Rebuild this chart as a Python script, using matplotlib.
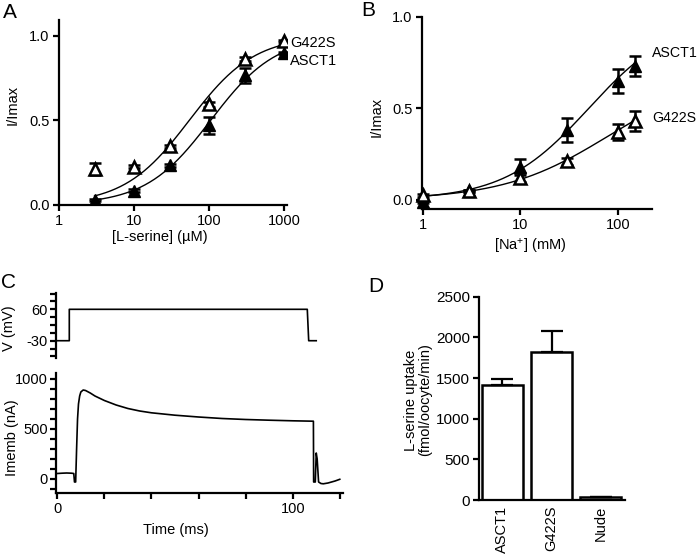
import numpy as np
import matplotlib
matplotlib.use('Agg')
import matplotlib.pyplot as plt
from matplotlib.ticker import FixedLocator, NullLocator

plt.rcParams['font.family'] = ['Liberation Sans', 'DejaVu Sans']
plt.rcParams['mathtext.fontset'] = 'custom'
plt.rcParams['mathtext.rm'] = 'Liberation Sans'
plt.rcParams['mathtext.it'] = 'Liberation Sans:italic'
plt.rcParams['axes.unicode_minus'] = False

# ---------------- data ----------------
# Panel A: L-serine dose response
serine_conc = [3, 10, 30, 100, 300, 1000]
a_asct1 = [0.028, 0.083, 0.232, 0.47, 0.765, 0.897]
a_asct1_err = [0.005, 0.008, 0.01, 0.05, 0.045, 0.005]
a_g422s = [0.21, 0.225, 0.345, 0.593, 0.865, 0.97]
a_g422s_err = [0.035, 0.008, 0.008, 0.012, 0.012, 0.006]
# Hill fit parameters (Vmax, K, n)
a_fit_asct1 = (1.0, 106.0, 1.0)
a_fit_g422s = (1.0, 55.0, 1.0)

# Panel B: Na+ dependence
na_conc = [1, 3, 10, 30, 100, 150]
b_asct1 = [-0.01, 0.05, 0.18, 0.38, 0.65, 0.73]
b_asct1_err = [0.006, 0.006, 0.045, 0.065, 0.065, 0.055]
b_g422s = [0.024, 0.05, 0.12, 0.21, 0.37, 0.43]
b_g422s_err = [0.006, 0.006, 0.025, 0.02, 0.045, 0.055]
b_fit_asct1 = (1.0, 50.0, 1.0)
b_fit_g422s = (0.7, 80.0, 0.8)

# Panel C: voltage protocol and current trace
v_time = [0, 5.1, 5.1, 106.2, 106.8, 110]
v_mv = [-30, -30, 60, 60, -30, -30]
i_time = [0, 2, 4, 6, 7.0, 7.3, 7.8, 8.2, 8.6, 9.0, 9.5, 10, 11, 12, 14, 16,
          20, 25, 30, 35, 40, 45, 50, 60, 70, 80, 90, 100, 108.8, 108.9,
          109.6, 110.0, 110.4, 111, 112, 113, 115, 118, 120]
i_na = [55, 58, 60, 58, 55, -30, -30, 300, 600, 750, 830, 870, 890, 885, 860,
        830, 785, 740, 705, 680, 662, 650, 638, 620, 605, 595, 588, 582, 578,
        -30, -30, 260, 200, -30, -45, -48, -40, -20, -3]

# Panel D: uptake
d_groups = ['ASCT1', 'G422S', 'Nude']
d_uptake = [1420, 1820, 33]
d_err = [70, 255, 8]


def hill(x, p):
    vmax, k, n = p
    x = np.asarray(x, dtype=float)
    return vmax * x ** n / (k ** n + x ** n)


W, H = 700, 555
fig = plt.figure(figsize=(W / 100, H / 100), dpi=100)


def rect(l, t, r, b):
    return [l / W, 1 - b / H, (r - l) / W, (b - t) / H]


def to_axes(ax, px, py):
    return ax.transAxes.inverted().transform((px, H - py))


SPW = 1.6
TFS = 10.5
LFS = 10.5


def style(ax):
    for s in ['top', 'right']:
        ax.spines[s].set_visible(False)
    for s in ['left', 'bottom']:
        ax.spines[s].set_linewidth(SPW)
    ax.tick_params(width=SPW, length=4.5, labelsize=TFS, pad=2)
    ax.tick_params(which='minor', width=SPW, length=4.5)


eb_kw = dict(elinewidth=1.8, capsize=4.5, capthick=1.8, ls='none', ecolor='black')

# ---------------- Panel A ----------------
axA = fig.add_axes(rect(58.7, 20, 287.3, 204.7))
style(axA)
axA.set_xscale('log')
axA.set_xlim(1, 1107)
axA.set_ylim(0, 1.093)
xs = np.logspace(np.log10(3), np.log10(1000), 200)
axA.plot(xs, hill(xs, a_fit_asct1), color='black', lw=1.0)
axA.plot(xs, hill(xs, a_fit_g422s), color='black', lw=1.0)
axA.errorbar(serine_conc, a_asct1, yerr=a_asct1_err, marker='^', ms=8.5,
             mfc='black', mec='black', **eb_kw, zorder=3)
axA.errorbar(serine_conc, a_g422s, yerr=a_g422s_err, marker='^', ms=9,
             mfc='white', mec='black', mew=1.8, **eb_kw, zorder=4)
axA.xaxis.set_major_locator(FixedLocator([1, 10, 100, 1000]))
axA.xaxis.set_minor_locator(NullLocator())
axA.set_xticklabels(['1', '10', '100', '1000'])
axA.set_yticks([0, 0.5, 1.0])
axA.set_yticklabels(['0.0', '0.5', '1.0'])
axA.set_ylabel('I/Imax', fontsize=LFS, va='center')
axA.yaxis.set_label_coords(*to_axes(axA, 13, 105))
axA.set_xlabel('[L-serine] (\u00b5M)', fontsize=LFS, va='center')
axA.xaxis.set_label_coords(*to_axes(axA, 160, 237))
axA.text(*to_axes(axA, 290, 42.7), 'G422S', transform=axA.transAxes,
         fontsize=10.5, va='center', ha='left', clip_on=False)
axA.text(*to_axes(axA, 290, 60.7), 'ASCT1', transform=axA.transAxes,
         fontsize=10.5, va='center', ha='left', clip_on=False)

# ---------------- Panel B ----------------
axB = fig.add_axes(rect(421.7, 16.7, 651.7, 209))
style(axB)
axB.set_xscale('log')
axB.set_xlim(0.977, 220)
axB.set_ylim(-0.05, 1.0)
xs = np.logspace(0, np.log10(150), 200)
axB.plot(xs, hill(xs, b_fit_asct1), color='black', lw=1.0)
axB.plot(xs, hill(xs, b_fit_g422s), color='black', lw=1.0)
axB.errorbar(na_conc, b_asct1, yerr=b_asct1_err, marker='^', ms=8.5,
             mfc='black', mec='black', **eb_kw, zorder=3, clip_on=False)
axB.errorbar(na_conc, b_g422s, yerr=b_g422s_err, marker='^', ms=9,
             mfc='white', mec='black', mew=1.8, **eb_kw, zorder=4, clip_on=False)
axB.xaxis.set_major_locator(FixedLocator([1, 10, 100]))
axB.xaxis.set_minor_locator(NullLocator())
axB.set_xticklabels(['1', '10', '100'])
axB.set_yticks([0, 0.5, 1.0])
axB.set_yticklabels(['0.0', '0.5', '1.0'])
axB.set_ylabel('I/Imax', fontsize=LFS, va='center')
axB.yaxis.set_label_coords(*to_axes(axB, 377, 117))
axB.set_xlabel('[Na$^{+}$] (mM)', fontsize=LFS, va='center')
axB.xaxis.set_label_coords(*to_axes(axB, 530, 247))
axB.text(*to_axes(axB, 652, 52.7), 'ASCT1', transform=axB.transAxes,
         fontsize=10.2, va='center', ha='left', clip_on=False)
axB.text(*to_axes(axB, 652, 118.3), 'G422S', transform=axB.transAxes,
         fontsize=10.2, va='center', ha='left', clip_on=False)

# ---------------- Panel C ----------------
axCv = fig.add_axes(rect(56, 292.7, 343.3, 358.3))
style(axCv)
axCv.spines['bottom'].set_visible(False)
axCv.set_xlim(-0.55, 121.5)
axCv.set_ylim(-80.4, 107.6)
axCv.plot(v_time, v_mv, color='black', lw=1.2)
axCv.set_xticks([])
axCv.yaxis.set_major_locator(FixedLocator([60, -30]))
axCv.yaxis.set_minor_locator(FixedLocator([105, 82.5, 37.5, 15, -7.5, -52.5, -75]))
axCv.tick_params(axis='y', which='both', length=4)
axCv.set_ylabel('V (mV)', fontsize=LFS, va='center')
axCv.yaxis.set_label_coords(*to_axes(axCv, 9, 328))

axCi = fig.add_axes(rect(56, 373.3, 343.3, 493.3))
style(axCi)
axCi.set_xlim(-0.55, 121.5)
axCi.set_ylim(-143, 1057)
axCi.plot(i_time, i_na, color='black', lw=1.2)
axCi.xaxis.set_major_locator(FixedLocator([0, 100]))
axCi.xaxis.set_minor_locator(FixedLocator([20, 40, 60, 80, 120]))
axCi.yaxis.set_major_locator(FixedLocator([0, 500, 1000]))
axCi.yaxis.set_minor_locator(FixedLocator([-100, 100, 200, 300, 400, 600, 700, 800, 900]))
axCi.tick_params(which='both', length=4)
axCi.set_ylabel('Imemb (nA)', fontsize=LFS, va='center')
axCi.yaxis.set_label_coords(*to_axes(axCi, 12, 438))
axCi.set_xlabel('Time (ms)', fontsize=LFS, va='center')
axCi.xaxis.set_label_coords(*to_axes(axCi, 176, 530))

# ---------------- Panel D ----------------
axD = fig.add_axes(rect(479, 296.7, 625, 500))
style(axD)
xpos = np.arange(len(d_groups))
axD.bar(xpos, d_uptake, width=0.83, color='white', edgecolor='black', lw=1.8,
        yerr=[[0] * len(d_err), d_err],
        error_kw=dict(elinewidth=1.6, capsize=8, capthick=1.6, ecolor='black'))
axD.set_xlim(-0.47, 2.49)
axD.set_ylim(0, 2500)
axD.set_yticks([0, 500, 1000, 1500, 2000, 2500])
axD.set_xticks(xpos)
axD.set_xticklabels(d_groups, rotation=90, fontsize=10.5, va='top')
axD.tick_params(axis='x', length=0, pad=4)
axD.tick_params(axis='y', labelsize=11)
axD.set_ylabel('L-serine uptake\n(fmol/oocyte/min)', fontsize=LFS, va='center',
               linespacing=0.95)
axD.yaxis.set_label_coords(*to_axes(axD, 418, 400))

# panel letters
for letter, px, py in [('A', 3, 12), ('B', 361, 11), ('C', 1, 282), ('D', 368, 287)]:
    fig.text(px / W, 1 - py / H, letter, fontsize=15, ha='left', va='center')

fig.savefig('out.png', dpi=100)
